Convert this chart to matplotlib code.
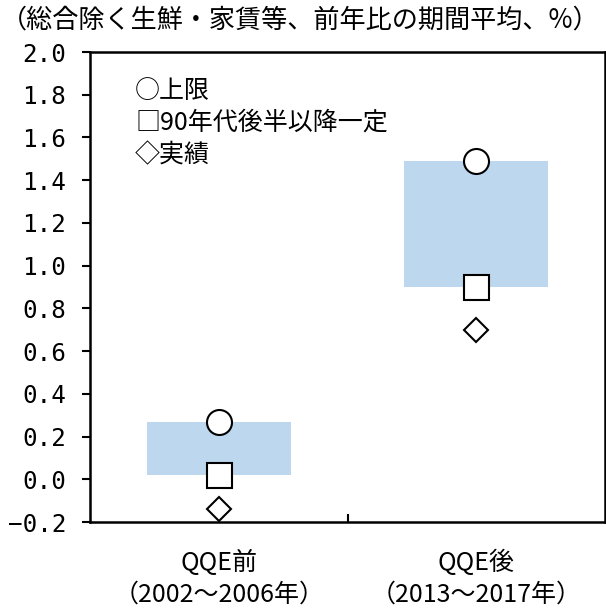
import matplotlib
matplotlib.use("Agg")
import matplotlib.pyplot as plt
import numpy as np

plt.rcParams['font.family'] = ['Noto Sans CJK JP', 'DejaVu Sans']

categories = ["QQE前\n（2002～2006年）", "QQE後\n（2013～2017年）"]
upper = [0.27, 1.49]          # ○ 上限
constant90s = [0.02, 0.90]    # □ 90年代後半以降一定
actual = [-0.14, 0.70]        # ◇ 実績
yticks = [-0.2, 0.0, 0.2, 0.4, 0.6, 0.8, 1.0, 1.2, 1.4, 1.6, 1.8, 2.0]
title = "（総合除く生鮮・家賃等、前年比の期間平均、%）"
legend_labels = ["○上限", "□90年代後半以降一定", "◇実績"]

W, H = 606, 609
fig = plt.figure(figsize=(W / 100, H / 100), dpi=100)
ax = fig.add_axes([90 / W, 1 - 522 / H, (605 - 90) / W, (522 - 52) / H])

x = np.arange(len(categories))
heights = np.array(upper) - np.array(constant90s)
ax.bar(x, heights, bottom=constant90s, width=0.56, color='#BDD7EE', zorder=1)
ax.plot(x, upper, linestyle='none', marker='o', markersize=18,
        markerfacecolor='white', markeredgecolor='black', markeredgewidth=1.5, zorder=3)
ax.plot(x, constant90s, linestyle='none', marker='s', markersize=18,
        markerfacecolor='white', markeredgecolor='black', markeredgewidth=1.5, zorder=3)
ax.plot(x, actual, linestyle='none', marker='D', markersize=12,
        markerfacecolor='white', markeredgecolor='black', markeredgewidth=1.5, zorder=3)

ax.set_xlim(-0.5, 1.5)
ax.set_ylim(-0.2, 2.0)
ax.set_yticks(yticks)
ax.set_yticklabels([f"{v:.1f}".replace('-', '\u2212') for v in yticks],
                   family=['DejaVu Sans Mono'], fontsize=17.5)
ax.tick_params(axis='y', direction='out', length=6, width=1.5, pad=11)

ax.set_xticks(x)
ax.set_xticklabels(categories, fontsize=18, linespacing=1.3)
ax.tick_params(axis='x', which='major', length=0, pad=20)
ax.set_xticks([0.5], minor=True)
ax.tick_params(axis='x', which='minor', direction='in', length=6, width=1.5)

for s in ['left', 'bottom', 'top', 'right']:
    ax.spines[s].set_linewidth(1.8)
    ax.spines[s].set_color('black')

fig.text(0.002, 1 - 20 / H, title, fontsize=18.8, va='center', ha='left')

for lab, yp in zip(legend_labels, [91, 123, 155]):
    fig.text(135 / W, 1 - yp / H, lab, fontsize=18, va='center', ha='left')

fig.savefig("out.png", dpi=100)
